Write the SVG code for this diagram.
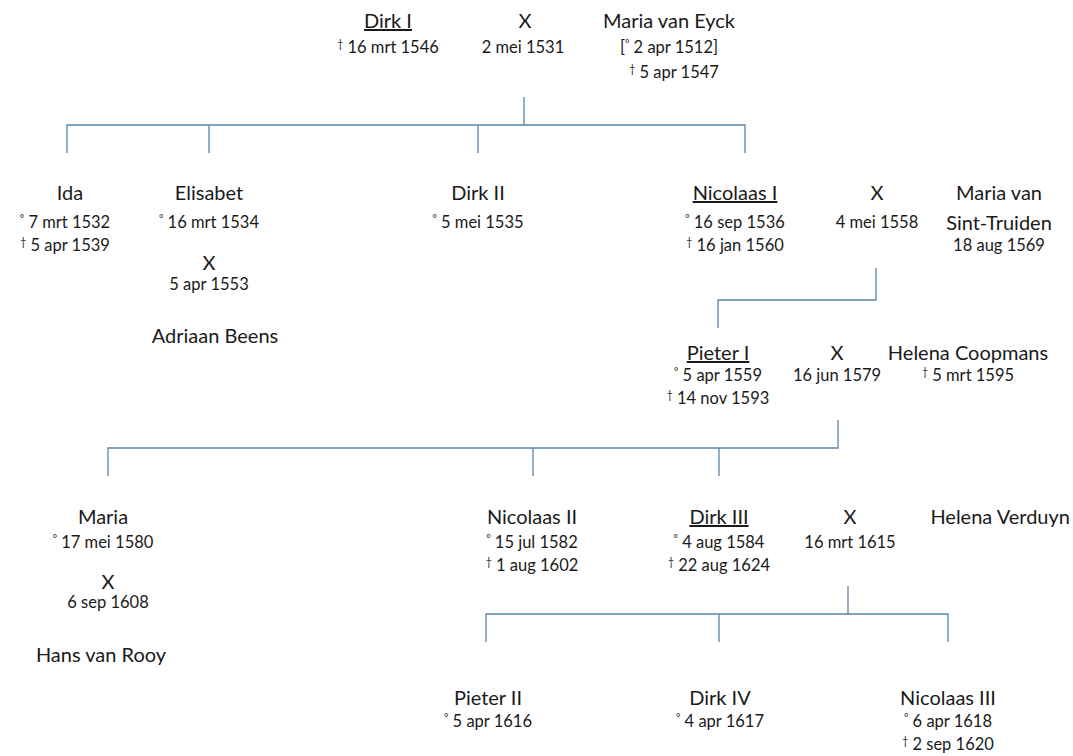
<svg xmlns="http://www.w3.org/2000/svg" width="1073" height="756" viewBox="0 0 1073 756">
<style>
text{font-family:Lato,"Open Sans","Liberation Sans",sans-serif;fill:#1a1a1a;text-anchor:middle}
.n{font-size:20px}
.d{font-size:16.5px}
.u{text-decoration:underline}
.s{font-size:10.5px}
.e{text-anchor:end}
.c path{fill:none;stroke:#5b84ad;stroke-width:1.3}
</style>
<rect width="1073" height="756" fill="#fff"/>
<g class="c" id="connectors">
<path d="M524 97V125M67 153V125H745V153M209 125V153M478 125V153"/>
<path d="M876 268V300H718V328"/>
<path d="M838 420V448H108V476M533 448V476M719 448V476"/>
<path d="M848 586V614M486 642V614H948V642M719 614V642"/>
</g>
<g id="dirk1"><text class="n u" x="388" y="28">Dirk I</text><text class="d" x="388" y="53"><tspan class="s" dy="-5">†</tspan><tspan dy="5"> 16 mrt 1546</tspan></text></g>
<g id="m1"><text class="n" x="525" y="28">X</text><text class="d" x="523" y="53">2 mei 1531</text></g>
<g id="mariavaneyck"><text class="n" x="669" y="28">Maria van Eyck</text><text class="d" x="669" y="53">[<tspan class="s" dy="-5">°</tspan><tspan dy="5"> 2 apr 1512]</tspan></text><text class="d" x="674" y="78"><tspan class="s" dy="-5">†</tspan><tspan dy="5"> 5 apr 1547</tspan></text></g>

<g id="ida"><text class="n" x="70" y="200">Ida</text><text class="d" x="65" y="228"><tspan class="s" dy="-5">°</tspan><tspan dy="5"> 7 mrt 1532</tspan></text><text class="d" x="65" y="251"><tspan class="s" dy="-5">†</tspan><tspan dy="5"> 5 apr 1539</tspan></text></g>
<g id="elisabet"><text class="n" x="209" y="200">Elisabet</text><text class="d" x="209" y="228"><tspan class="s" dy="-5">°</tspan><tspan dy="5"> 16 mrt 1534</tspan></text><text class="n" x="209" y="270">X</text><text class="d" x="209" y="290">5 apr 1553</text><text class="n" x="215" y="343">Adriaan Beens</text></g>
<g id="dirk2"><text class="n" x="478" y="200">Dirk II</text><text class="d" x="478" y="228"><tspan class="s" dy="-5">°</tspan><tspan dy="5"> 5 mei 1535</tspan></text></g>
<g id="nicolaas1"><text class="n u" x="735" y="200">Nicolaas I</text><text class="d" x="735" y="228"><tspan class="s" dy="-5">°</tspan><tspan dy="5"> 16 sep 1536</tspan></text><text class="d" x="735" y="251"><tspan class="s" dy="-5">†</tspan><tspan dy="5"> 16 jan 1560</tspan></text></g>
<g id="m2"><text class="n" x="877" y="200">X</text><text class="d" x="877" y="228">4 mei 1558</text></g>
<g id="mariasinttruiden"><text class="n" x="999" y="200">Maria van</text><text class="n" x="999" y="230">Sint-Truiden</text><text class="d" x="999" y="251">18 aug 1569</text></g>

<g id="pieter1"><text class="n u" x="718" y="360">Pieter I</text><text class="d" x="718" y="381"><tspan class="s" dy="-5">°</tspan><tspan dy="5"> 5 apr 1559</tspan></text><text class="d" x="718" y="404"><tspan class="s" dy="-5">†</tspan><tspan dy="5"> 14 nov 1593</tspan></text></g>
<g id="m3"><text class="n" x="837" y="360">X</text><text class="d" x="837" y="381">16 jun 1579</text></g>
<g id="helenacoopmans"><text class="n" x="968" y="360">Helena Coopmans</text><text class="d" x="968" y="381"><tspan class="s" dy="-5">†</tspan><tspan dy="5"> 5 mrt 1595</tspan></text></g>

<g id="maria"><text class="n" x="103" y="524">Maria</text><text class="d" x="103" y="548"><tspan class="s" dy="-5">°</tspan><tspan dy="5"> 17 mei 1580</tspan></text><text class="n" x="108" y="589">X</text><text class="d" x="108" y="608">6 sep 1608</text><text class="n" x="101" y="662">Hans van Rooy</text></g>
<g id="nicolaas2"><text class="n" x="532" y="524">Nicolaas II</text><text class="d" x="532" y="548"><tspan class="s" dy="-5">°</tspan><tspan dy="5"> 15 jul 1582</tspan></text><text class="d" x="532" y="571"><tspan class="s" dy="-5">†</tspan><tspan dy="5"> 1 aug 1602</tspan></text></g>
<g id="dirk3"><text class="n u" x="719" y="524">Dirk III</text><text class="d" x="719" y="548"><tspan class="s" dy="-5">°</tspan><tspan dy="5"> 4 aug 1584</tspan></text><text class="d" x="719" y="571"><tspan class="s" dy="-5">†</tspan><tspan dy="5"> 22 aug 1624</tspan></text></g>
<g id="m4"><text class="n" x="850" y="524">X</text><text class="d" x="850" y="548">16 mrt 1615</text></g>
<g id="helenaverduyn"><text class="n e" x="1070" y="524">Helena Verduyn</text></g>

<g id="pieter2"><text class="n" x="488" y="705">Pieter II</text><text class="d" x="488" y="727"><tspan class="s" dy="-5">°</tspan><tspan dy="5"> 5 apr 1616</tspan></text></g>
<g id="dirk4"><text class="n" x="720" y="705">Dirk IV</text><text class="d" x="720" y="727"><tspan class="s" dy="-5">°</tspan><tspan dy="5"> 4 apr 1617</tspan></text></g>
<g id="nicolaas3"><text class="n" x="948" y="705">Nicolaas III</text><text class="d" x="948" y="727"><tspan class="s" dy="-5">°</tspan><tspan dy="5"> 6 apr 1618</tspan></text><text class="d" x="948" y="750"><tspan class="s" dy="-5">†</tspan><tspan dy="5"> 2 sep 1620</tspan></text></g>
</svg>
